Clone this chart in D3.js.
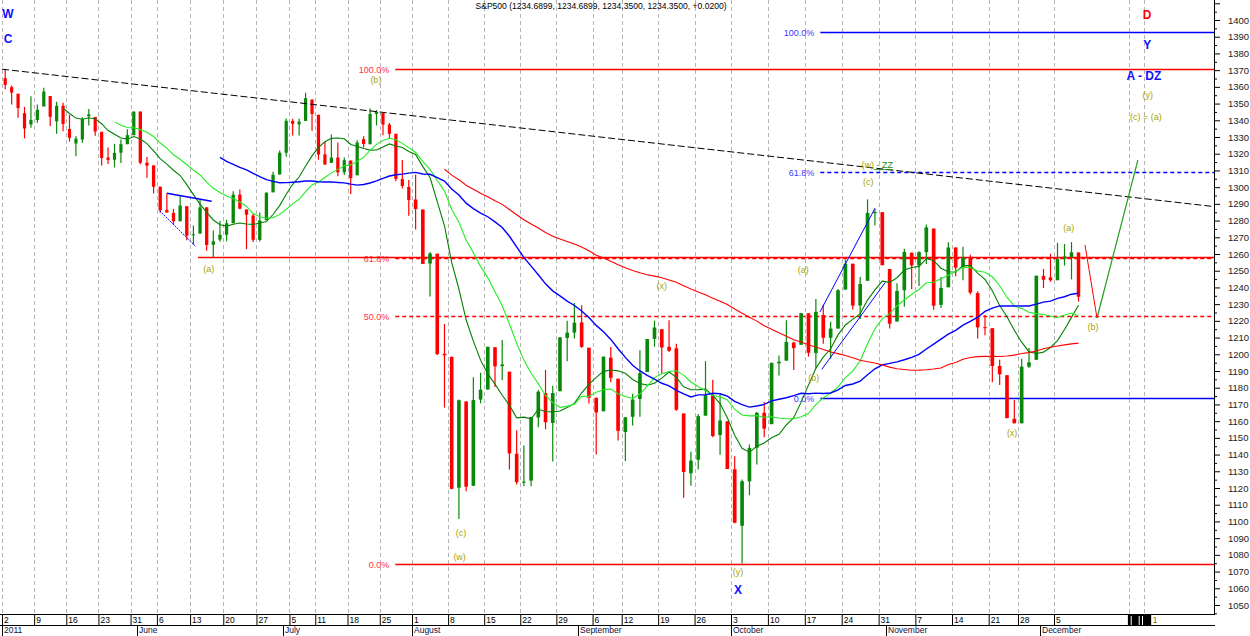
<!DOCTYPE html>
<html>
<head>
<meta charset="utf-8">
<script src="https://cdn.jsdelivr.net/npm/d3@7"></script>
<style>
  body { margin: 0; background: #fff; }
  svg { display: block; }
  text { font-family: "Liberation Sans", Arial, sans-serif; }
</style>
</head>
<body>
<svg id="chart" width="1250" height="636"></svg>
<script>
// ---- data (S&P500, daily bars) ----
var tradeDates = [
  "2011-05-02","2011-05-03","2011-05-04","2011-05-05","2011-05-06","2011-05-09","2011-05-10","2011-05-11","2011-05-12","2011-05-13",
  "2011-05-16","2011-05-17","2011-05-18","2011-05-19","2011-05-20","2011-05-23","2011-05-24","2011-05-25","2011-05-26","2011-05-27","2011-05-31",
  "2011-06-01","2011-06-02","2011-06-03","2011-06-06","2011-06-07","2011-06-08","2011-06-09","2011-06-10","2011-06-13","2011-06-14","2011-06-15",
  "2011-06-16","2011-06-17","2011-06-20","2011-06-21","2011-06-22","2011-06-23","2011-06-24","2011-06-27","2011-06-28","2011-06-29","2011-06-30",
  "2011-07-01","2011-07-05","2011-07-06","2011-07-07","2011-07-08","2011-07-11","2011-07-12","2011-07-13","2011-07-14","2011-07-15",
  "2011-07-18","2011-07-19","2011-07-20","2011-07-21","2011-07-22","2011-07-25","2011-07-26","2011-07-27","2011-07-28","2011-07-29",
  "2011-08-01","2011-08-02","2011-08-03","2011-08-04","2011-08-05","2011-08-08","2011-08-09","2011-08-10","2011-08-11","2011-08-12",
  "2011-08-15","2011-08-16","2011-08-17","2011-08-18","2011-08-19","2011-08-22","2011-08-23","2011-08-24","2011-08-25","2011-08-26",
  "2011-08-29","2011-08-30","2011-08-31",
  "2011-09-01","2011-09-02","2011-09-06","2011-09-07","2011-09-08","2011-09-09","2011-09-12","2011-09-13","2011-09-14","2011-09-15","2011-09-16",
  "2011-09-19","2011-09-20","2011-09-21","2011-09-22","2011-09-23","2011-09-26","2011-09-27","2011-09-28","2011-09-29","2011-09-30",
  "2011-10-03","2011-10-04","2011-10-05","2011-10-06","2011-10-07","2011-10-10","2011-10-11","2011-10-12","2011-10-13","2011-10-14",
  "2011-10-17","2011-10-18","2011-10-19","2011-10-20","2011-10-21","2011-10-24","2011-10-25","2011-10-26","2011-10-27","2011-10-28","2011-10-31",
  "2011-11-01","2011-11-02","2011-11-03","2011-11-04","2011-11-07","2011-11-08","2011-11-09","2011-11-10","2011-11-11","2011-11-14",
  "2011-11-15","2011-11-16","2011-11-17","2011-11-18","2011-11-21","2011-11-22","2011-11-23","2011-11-25","2011-11-28","2011-11-29","2011-11-30",
  "2011-12-01","2011-12-02","2011-12-05","2011-12-06","2011-12-07","2011-12-08"
];

var openPx = [
  1365.2,1359.8,1355.9,1344.2,1337.5,1340.2,1348.3,1354.5,1339.4,1348.7,1334.8,1326.1,1328.5,1342.4,1342.0,1333.1,1317.7,1316.4,1320.6,1325.7,1331.1,
  1345.2,1314.6,1313.0,1300.3,1286.3,1284.6,1279.6,1288.6,1271.6,1272.2,1287.9,1265.5,1268.6,1271.5,1278.4,1295.5,1286.6,1283.0,1268.4,1280.2,1296.9,1307.6,
  1320.6,1339.6,1337.6,1339.6,1352.4,1343.3,1319.6,1314.5,1317.7,1308.9,1315.9,1307.1,1328.7,1325.7,1343.8,1344.3,1337.4,1331.9,1304.8,1300.1,
  1292.6,1286.6,1254.3,1260.2,1200.3,1198.5,1120.2,1171.8,1121.3,1172.9,1178.9,1204.2,1192.9,1189.6,1140.5,1123.6,1124.4,1162.2,1176.7,1158.9,1177.9,1209.8,1213.0,
  1219.1,1203.9,1174.0,1165.9,1198.0,1185.4,1153.5,1162.6,1173.3,1189.4,1209.2,1215.0,1204.5,1203.6,1164.6,1128.8,1136.9,1163.3,1175.4,1151.7,1159.9,
  1131.2,1097.4,1124.0,1144.1,1165.0,1158.2,1194.6,1196.2,1207.0,1205.7,1224.5,1200.8,1223.5,1209.9,1215.4,1238.7,1254.2,1229.2,1244.0,1284.4,1285.0,
  1251.0,1219.6,1238.3,1260.8,1253.2,1261.1,1275.2,1229.6,1240.1,1263.9,1251.7,1257.8,1236.6,1216.2,1215.6,1193.0,1187.5,1161.4,1158.7,1192.6,1196.7,
  1246.9,1246.0,1244.3,1257.2,1258.1,1260.9
];
var highPx = [
  1370.6,1360.8,1355.9,1348.0,1354.4,1349.4,1359.4,1354.5,1351.1,1350.5,1343.3,1330.4,1341.8,1346.8,1342.0,1333.1,1323.7,1325.9,1328.5,1334.6,1345.2,
  1345.2,1318.0,1313.0,1300.3,1296.2,1287.0,1294.5,1288.6,1277.0,1292.5,1287.9,1274.1,1279.8,1280.4,1297.6,1298.6,1286.6,1283.9,1284.9,1296.8,1309.2,1321.9,
  1341.0,1340.9,1340.9,1356.5,1352.4,1343.3,1327.2,1331.5,1326.7,1317.7,1315.9,1328.1,1330.4,1347.0,1346.1,1344.3,1338.5,1331.9,1316.3,1304.2,
  1307.4,1286.6,1261.2,1260.2,1218.1,1198.5,1172.9,1171.8,1186.3,1189.0,1204.5,1204.2,1208.5,1189.6,1154.5,1145.5,1162.4,1178.6,1190.7,1181.2,1210.3,1220.1,1230.7,
  1229.3,1203.9,1174.0,1198.6,1204.4,1185.4,1162.5,1176.4,1202.4,1209.1,1220.1,1215.0,1220.4,1206.3,1164.6,1141.7,1164.2,1195.9,1184.7,1175.9,1159.9,
  1139.0,1125.1,1146.1,1165.5,1171.4,1194.9,1199.2,1220.3,1207.5,1224.6,1224.5,1233.1,1229.6,1219.4,1239.0,1256.6,1254.2,1246.3,1292.7,1287.1,1285.0,
  1251.0,1242.5,1263.2,1260.8,1261.7,1277.6,1275.2,1246.2,1267.0,1263.9,1264.3,1259.6,1237.7,1223.5,1215.6,1196.8,1187.5,1172.7,1197.4,1203.7,1247.1,
  1251.1,1260.1,1266.7,1266.0,1267.1,1260.9
];
var lowPx = [
  1358.6,1349.5,1341.5,1329.2,1335.6,1338.6,1348.3,1336.4,1332.0,1333.4,1327.3,1318.5,1326.6,1336.9,1330.7,1312.9,1313.9,1311.8,1314.4,1325.7,1331.1,
  1313.7,1305.6,1296.2,1284.7,1284.7,1277.4,1279.6,1268.3,1265.6,1272.2,1261.9,1258.1,1267.4,1267.6,1278.4,1286.8,1262.9,1267.2,1267.5,1280.2,1296.9,1307.6,
  1318.2,1330.9,1330.9,1339.6,1333.7,1316.4,1313.3,1314.5,1306.5,1307.3,1295.9,1307.1,1323.7,1325.7,1336.9,1331.1,1329.1,1303.5,1299.2,1282.9,
  1274.7,1254.0,1234.6,1199.5,1168.1,1119.3,1101.5,1118.0,1121.3,1170.7,1178.9,1180.5,1184.4,1131.0,1122.1,1121.1,1121.1,1156.3,1155.1,1135.9,1177.9,1195.8,1209.4,
  1203.9,1170.6,1140.1,1165.9,1183.3,1148.4,1136.1,1157.4,1162.7,1189.4,1204.5,1188.4,1201.3,1166.2,1114.2,1121.4,1131.1,1163.3,1150.4,1139.9,1131.3,
  1098.9,1074.8,1115.7,1134.0,1150.3,1158.2,1187.3,1196.2,1190.6,1205.7,1198.6,1191.5,1206.3,1197.3,1215.4,1238.7,1226.8,1221.1,1244.0,1277.0,1253.2,
  1215.4,1219.6,1228.4,1238.9,1240.8,1254.0,1226.6,1227.7,1240.1,1246.7,1244.3,1235.7,1209.4,1211.4,1183.2,1181.6,1161.8,1158.7,1158.7,1191.8,1196.7,
  1239.7,1243.4,1244.3,1253.0,1244.8,1231.5
];
var closePx = [
  1361.2,1356.6,1347.3,1335.1,1340.2,1346.3,1357.2,1342.1,1348.7,1337.8,1329.5,1329.0,1340.7,1343.6,1333.3,1317.4,1316.3,1320.5,1325.7,1331.1,1345.2,
  1314.6,1312.9,1300.2,1286.2,1284.9,1279.6,1289.0,1271.0,1271.8,1287.9,1265.4,1267.6,1271.5,1278.4,1295.5,1287.1,1283.5,1268.5,1280.1,1296.7,1307.4,1320.6,
  1339.7,1337.9,1339.2,1353.2,1343.8,1319.5,1313.6,1317.7,1308.9,1316.1,1305.4,1326.7,1325.8,1343.8,1345.0,1337.4,1331.9,1304.9,1300.7,1292.3,
  1286.9,1254.1,1260.3,1200.1,1199.4,1119.5,1172.5,1120.8,1172.6,1178.8,1204.5,1192.8,1193.9,1140.7,1123.5,1123.8,1162.4,1177.6,1159.3,1176.8,1210.1,1212.9,1218.9,
  1204.4,1174.0,1165.2,1198.6,1185.9,1154.2,1162.3,1172.9,1188.7,1209.1,1216.0,1204.1,1202.1,1166.8,1129.6,1136.4,1163.0,1175.4,1151.1,1160.4,1131.4,
  1099.2,1124.0,1144.0,1165.0,1155.5,1194.9,1195.5,1207.3,1203.7,1224.6,1200.9,1225.4,1209.9,1215.4,1238.3,1254.2,1229.1,1242.0,1284.6,1285.1,1253.3,
  1218.3,1237.9,1261.2,1253.2,1261.1,1275.9,1229.1,1239.7,1263.9,1251.8,1257.8,1236.9,1216.1,1215.7,1193.0,1188.0,1161.8,1158.7,1192.6,1195.2,1247.0,
  1244.6,1244.3,1257.1,1258.5,1261.0,1234.4
];

// moving averages (in trading days) and their colours
var maPeriods = [10, 18, 34, 68];
var maColors = ["#008000", "#22ee22", "#0000ff", "#ff0000"];

var priceTicks = d3.range(1050, 1411, 10);
var monthNames = ["2011", "June", "July", "August", "September", "October", "November", "December"];

// fibonacci levels: price, start (trading day index), label
var fibRed = [
  { label: "100.0%", price: 1370.58, from: 60.4, dash: false },
  { label: "61.8%", price: 1257.6, from: 60.4, dash: true },
  { label: "50.0%", price: 1222.7, from: 60.4, dash: true },
  { label: "0.0%", price: 1074.77, from: 60.4, dash: false }
];
var fibBlue = [
  { label: "100.0%", price: 1392.7, from: 119.1, dash: false },
  { label: "61.8%", price: 1309.1, from: 119.1, dash: true },
  { label: "0.0%", price: 1173.7, from: 119.1, dash: false }
];
var supportLine = { price: 1258.07, from: 30.2 };

// drawn trend lines: [index, price] -> [index, price]
var trendLines = [
  { a: [0, 1370.58], b: [175, 1288.3], color: "#000", width: 1, dash: "7,3" },
  { a: [25.5, 1296.3], b: [32.25, 1291.5], color: "#0000ff", width: 1.5, dash: null },
  { a: [24.4, 1285.9], b: [29.9, 1264.3], color: "#0000ff", width: 1, dash: "2,1" },
  { a: [119.06, 1225.4], b: [126.5, 1287.3], color: "#0000ff", width: 1, dash: null },
  { a: [119.3, 1191], b: [127.9, 1243], color: "#0000ff", width: 1, dash: null },
  { a: [155.45, 1265.4], b: [157.26, 1221.7], color: "#ff0000", width: 1, dash: null },
  { a: [157.26, 1221.7], b: [163.4, 1316.2], color: "#1ea01e", width: 1.2, dash: null }
];

// wave labels
var waveLabels = [
  { t: "(a)", i: 31.8, p: 1251.0 },
  { t: "(b)", i: 57.4, p: 1364.1 },
  { t: "(c)", i: 69.8, p: 1093.0 },
  { t: "(w)", i: 69.6, p: 1078.6 },
  { t: "(x)", i: 97.5, p: 1240.8 },
  { t: "(y)", i: 107.95, p: 1069.7 },
  { t: "(a)", i: 116.8, p: 1250.4 },
  { t: "(b)", i: 118.2, p: 1185.8 },
  { t: "(c)", i: 125.6, p: 1303.0 },
  { t: "(x)", i: 145.2, p: 1152.8 },
  { t: "(a)", i: 153.1, p: 1275.5 },
  { t: "(b)", i: 156.65, p: 1216.3 },
  { t: "(y)", i: 164.9, p: 1355.1 },
  { t: "(c) = (a)", i: 164.6, p: 1342.0 }
];
var bigLabels = [
  { t: "W", i: 0.93, p: 1403.6, c: "#1010ff" },
  { t: "C", i: 0.93, p: 1389.0, c: "#1010ff" },
  { t: "D", i: 164.8, p: 1403.0, c: "#ff0000" },
  { t: "Y", i: 164.8, p: 1385.0, c: "#1010ff" },
  { t: "A - DZ", i: 164.3, p: 1366.5, c: "#1010ff" },
  { t: "X", i: 107.95, p: 1059.0, c: "#1010ff" }
];

// ---- layout ----
var W = 1250, H = 636;
var plotRight = 1214, plotBottom = 614, rowH = 11;
// month-start pixel calibration (bars per day differ through the year)
var monthPx = [2, 137, 283, 412, 578, 731, 886, 1040];

var parse = d3.timeParse("%Y-%m-%d");
var dates = tradeDates.map(parse);
var n = dates.length;

var monthStart = [];
dates.forEach(function (d, i) {
  if (i === 0 || d.getMonth() !== dates[i - 1].getMonth()) monthStart.push(i);
});
var weekStart = [];
dates.forEach(function (d, i) {
  if (i === 0 || +d3.timeMonday.floor(d) !== +d3.timeMonday.floor(dates[i - 1])) weekStart.push(i);
});

var x = d3.scaleLinear()
  .domain(monthStart.concat([n, n + 20]))
  .range(monthPx.concat([1082, 1215]));
var y = d3.scaleLinear().domain([1050, 1400]).range([605, 20]);

var svg = d3.select("#chart");
svg.append("rect").attr("width", W).attr("height", H).attr("fill", "#fff");

svg.append("defs").append("clipPath").attr("id", "plotclip")
  .append("rect").attr("x", 0).attr("y", 0).attr("width", plotRight).attr("height", plotBottom);

var plot = svg.append("g").attr("clip-path", "url(#plotclip)");

// vertical week gridlines (incl. two in the future area)
var gridIdx = weekStart.concat([162.1, 164.3]);
plot.append("g").selectAll("line").data(gridIdx).join("line")
  .attr("x1", function (d) { return Math.round(x(d)) + 0.5; })
  .attr("x2", function (d) { return Math.round(x(d)) + 0.5; })
  .attr("y1", 0).attr("y2", plotBottom)
  .attr("stroke", "#b4b4b4").attr("stroke-dasharray", "4,3");

// title
svg.append("text").attr("x", 601).attr("y", 9)
  .attr("text-anchor", "middle").attr("font-size", 9).attr("fill", "#000")
  .attr("textLength", 251).attr("lengthAdjust", "spacingAndGlyphs")
  .text("S&P500 (1234.6899, 1234.6899, 1234.3500, 1234.3500, +0.0200)");

// fib levels
function drawFib(levels, color, labelColor) {
  var g = plot.append("g");
  levels.forEach(function (f) {
    var yy = Math.round(y(f.price)) + 0.5;
    g.append("line")
      .attr("x1", x(f.from)).attr("x2", plotRight)
      .attr("y1", yy).attr("y2", yy)
      .attr("stroke", color).attr("stroke-width", 1.3)
      .attr("stroke-dasharray", f.dash ? "4,3" : null);
    g.append("text")
      .attr("x", x(f.from) - 6).attr("y", yy)
      .attr("dy", "0.35em").attr("text-anchor", "end")
      .attr("font-size", 9).attr("fill", labelColor)
      .text(f.label);
  });
}
drawFib(fibRed, "#ff0000", "#ff3344");
drawFib(fibBlue, "#0000ff", "#3a3aff");

plot.append("line")
  .attr("x1", x(supportLine.from)).attr("x2", plotRight)
  .attr("y1", Math.round(y(supportLine.price)) + 0.5).attr("y2", Math.round(y(supportLine.price)) + 0.5)
  .attr("stroke", "#ff0000").attr("stroke-width", 1.3);

// candles
var bars = d3.range(n).map(function (i) {
  return { i: i, o: openPx[i], h: highPx[i], l: lowPx[i], c: closePx[i] };
});
var candle = plot.append("g").selectAll("g").data(bars).join("g")
  .attr("stroke", function (d) { return d.c >= d.o ? "#0a880a" : "#ff0000"; })
  .attr("fill", function (d) { return d.c >= d.o ? "#0a880a" : "#ff0000"; });
candle.append("line")
  .attr("x1", function (d) { return x(d.i + 0.5); })
  .attr("x2", function (d) { return x(d.i + 0.5); })
  .attr("y1", function (d) { return y(d.h); })
  .attr("y2", function (d) { return y(d.l); })
  .attr("stroke-width", 1.2);
candle.append("rect")
  .attr("stroke", "none")
  .attr("x", function (d) { var w = (x(d.i + 1) - x(d.i)) * 0.5; return x(d.i + 0.5) - w / 2; })
  .attr("width", function (d) { return (x(d.i + 1) - x(d.i)) * 0.5; })
  .attr("y", function (d) { return y(Math.max(d.o, d.c)); })
  .attr("height", function (d) { return Math.max(1, Math.abs(y(d.o) - y(d.c))); });

// moving averages
maPeriods.forEach(function (p, k) {
  var vals = closePx.map(function (c, i) {
    return i < p - 1 ? null : d3.mean(closePx.slice(i - p + 1, i + 1));
  });
  var line = d3.line()
    .defined(function (d) { return d !== null; })
    .x(function (d, i) { return x(i + 0.5); })
    .y(function (d) { return y(d); });
  plot.append("path").datum(vals)
    .attr("d", line)
    .attr("fill", "none")
    .attr("stroke", maColors[k])
    .attr("stroke-width", k === 2 ? 1.4 : 1.1);
});

// trend lines
plot.append("g").selectAll("line").data(trendLines).join("line")
  .attr("x1", function (d) { return x(d.a[0]); })
  .attr("y1", function (d) { return y(d.a[1]); })
  .attr("x2", function (d) { return x(d.b[0]); })
  .attr("y2", function (d) { return y(d.b[1]); })
  .attr("stroke", function (d) { return d.color; })
  .attr("stroke-width", function (d) { return d.width; })
  .attr("stroke-dasharray", function (d) { return d.dash; });

// wave labels
plot.append("g").selectAll("text").data(waveLabels).join("text")
  .attr("x", function (d) { return x(d.i); })
  .attr("y", function (d) { return y(d.p); })
  .attr("dy", "0.35em").attr("text-anchor", "middle")
  .attr("font-size", 9).attr("fill", "#a8a400")
  .text(function (d) { return d.t; });

var zz = plot.append("text")
  .attr("x", x(126.8)).attr("y", y(1313.2))
  .attr("dy", "0.35em").attr("text-anchor", "middle").attr("font-size", 9);
zz.append("tspan").attr("fill", "#a8a400").text("(w)");
zz.append("tspan").attr("fill", "#1e8a1e").attr("text-decoration", "underline").text(" - ZZ");

svg.append("g").selectAll("text").data(bigLabels).join("text")
  .attr("x", function (d) { return x(d.i); })
  .attr("y", function (d) { return y(d.p); })
  .attr("dy", "0.35em").attr("text-anchor", "middle")
  .attr("font-size", 12).attr("font-weight", "bold")
  .attr("fill", function (d) { return d.c; })
  .text(function (d) { return d.t; });

// right price axis
var yAxisG = svg.append("g").attr("transform", "translate(" + plotRight + ",0)");
yAxisG.append("g")
  .call(d3.axisRight(y).tickValues(d3.range(1045, 1411, 10)).tickSize(3).tickFormat(""))
  .call(function (g) { g.select(".domain").remove(); });
yAxisG.append("g")
  .call(d3.axisRight(y).tickValues(priceTicks).tickSize(6).tickPadding(8)
    .tickFormat(function (d) { return d > 1400 ? "" : d; }))
  .call(function (g) { g.select(".domain").remove(); })
  .attr("font-size", 9.5)
  .attr("font-family", "Liberation Sans, Arial, sans-serif")
  .call(function (g) { g.selectAll("text").attr("fill", "#222"); });
svg.append("line")
  .attr("x1", plotRight + 0.5).attr("x2", plotRight + 0.5)
  .attr("y1", 0).attr("y2", plotBottom + 0.5)
  .attr("stroke", "#000");

// bottom date axis: day row and month row
svg.append("line").attr("x1", 0).attr("x2", plotRight + 1)
  .attr("y1", plotBottom + 0.5).attr("y2", plotBottom + 0.5).attr("stroke", "#000");
svg.append("line").attr("x1", 0).attr("x2", plotRight + 1)
  .attr("y1", plotBottom + rowH + 0.5).attr("y2", plotBottom + rowH + 0.5).attr("stroke", "#000");

svg.append("g").attr("transform", "translate(0," + plotBottom + ")")
  .call(d3.axisBottom(x).tickValues(weekStart).tickSize(rowH)
    .tickFormat(function (i) { return dates[i].getDate(); }))
  .call(function (g) { g.select(".domain").remove(); })
  .attr("font-size", 8.5)
  .attr("font-family", "Liberation Sans, Arial, sans-serif")
  .attr("text-anchor", "start")
  .call(function (g) {
    g.selectAll("text").attr("x", 1.5).attr("y", 6).attr("dy", "0.35em").attr("fill", "#000");
  });

svg.append("g").attr("transform", "translate(0," + (plotBottom + rowH) + ")")
  .call(d3.axisBottom(x).tickValues(monthStart).tickSize(rowH)
    .tickFormat(function (i, k) { return monthNames[k]; }))
  .call(function (g) { g.select(".domain").remove(); })
  .attr("font-size", 8.5)
  .attr("font-family", "Liberation Sans, Arial, sans-serif")
  .attr("text-anchor", "start")
  .call(function (g) {
    g.selectAll("text").attr("x", 1.5).attr("y", 5.5).attr("dy", "0.35em").attr("fill", "#101040");
  });

// compressed future dates block in the day row
var fut = svg.append("g");
fut.append("rect")
  .attr("x", x(161.9)).attr("y", plotBottom)
  .attr("width", x(165.4) - x(161.9)).attr("height", rowH)
  .attr("fill", "#000");
[162.4, 163.6, 164.1].forEach(function (v) {
  fut.append("line").attr("x1", x(v)).attr("x2", x(v))
    .attr("y1", plotBottom + 2).attr("y2", plotBottom + rowH)
    .attr("stroke", "#fff");
});
fut.append("text").attr("x", x(165.4) + 1.5).attr("y", plotBottom + 6)
  .attr("dy", "0.35em").attr("font-size", 8.5).attr("fill", "#a06000").text("1");
</script>
</body>
</html>
